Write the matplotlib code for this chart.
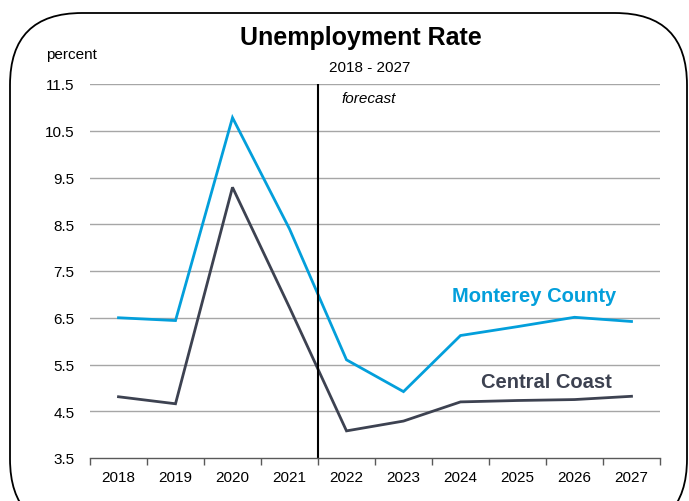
"""
Unemployment rate, Monterey County vs Central Coast, 2018-2027 (forecast from 2022).
Writes out.png.
"""

import matplotlib.pyplot as plt
from matplotlib.patches import FancyBboxPatch

YEARS = ["2018", "2019", "2020", "2021", "2022", "2023", "2024", "2025", "2026", "2027"]
MONTEREY = [6.50, 6.44, 10.78, 8.40, 5.60, 4.92, 6.12, 6.31, 6.51, 6.42]
CENTRAL_COAST = [4.81, 4.66, 9.29, 6.72, 4.08, 4.29, 4.70, 4.73, 4.75, 4.82]
Y_TICKS = [3.5, 4.5, 5.5, 6.5, 7.5, 8.5, 9.5, 10.5, 11.5]
FORECAST_START = 3.5  # between 2021 and 2022

BLUE = "#039fdb"
DARK = "#3d4251"
GRID = "#a6a6a6"
FONT = ["Liberation Sans", "DejaVu Sans"]

plt.rcParams["font.family"] = FONT

W, H = 689, 502
fig = plt.figure(figsize=(W / 100, H / 100), dpi=100)

# Rounded frame drawn on a background axes in pixel units
bg = fig.add_axes([0, 0, 1, 1], zorder=0)
bg.set_xlim(0, W)
bg.set_ylim(0, H)
bg.axis("off")
frame = FancyBboxPatch((10, -30), 677, 518,
                       boxstyle="round,pad=0,rounding_size=72",
                       facecolor="white", edgecolor="black", linewidth=1.3)
bg.add_patch(frame)

ax = fig.add_axes([90 / W, 1 - 459 / H, 570 / W, 374 / H], zorder=1)
ax.patch.set_alpha(0)

x = list(range(len(YEARS)))
ax.plot(x, MONTEREY, color=BLUE, linewidth=2.0, solid_joinstyle="miter")
ax.plot(x, CENTRAL_COAST, color=DARK, linewidth=2.0, solid_joinstyle="miter")

ax.set_xlim(-0.5, len(YEARS) - 0.5)
ax.set_ylim(Y_TICKS[0], Y_TICKS[-1])

for y in Y_TICKS[1:]:
    ax.axhline(y, color=GRID, linewidth=1.0, zorder=0)

ax.axvline(FORECAST_START, color="black", linewidth=1.5)
ax.text(FORECAST_START + 0.42, 11.2, "forecast", fontstyle="italic",
        fontsize=11, va="center")

# category axis: labels at centres, tick marks on the boundaries
ax.set_xticks(x)
ax.set_xticklabels(YEARS, fontsize=11)
ax.set_xticks([i - 0.5 for i in range(len(YEARS) + 1)], minor=True)
ax.tick_params(axis="x", which="major", length=0, pad=9)
ax.tick_params(axis="x", which="minor", length=5, color="#595959", width=1)

ax.set_yticks(Y_TICKS)
ax.set_yticklabels([f"{v:.1f}" for v in Y_TICKS], fontsize=11)
ax.tick_params(axis="y", length=0, pad=11)

for side in ("left", "right", "top"):
    ax.spines[side].set_visible(False)
ax.spines["bottom"].set_color("#595959")
ax.spines["bottom"].set_linewidth(1.0)

ax.text(7.3, 6.98, "Monterey County", color=BLUE, fontsize=14.5,
        fontweight="bold", ha="center", va="center")
ax.text(7.5, 5.13, "Central Coast", color=DARK, fontsize=14.5,
        fontweight="bold", ha="center", va="center")

fig.text(361 / W, 1 - 38 / H, "Unemployment Rate", fontsize=18,
         fontweight="bold", ha="center", va="center")
fig.text(370 / W, 1 - 68 / H, "2018 - 2027", fontsize=11,
         ha="center", va="center")
fig.text(46 / W, 1 - 55 / H, "percent", fontsize=11,
         ha="left", va="center")

fig.savefig("out.png", dpi=100)
